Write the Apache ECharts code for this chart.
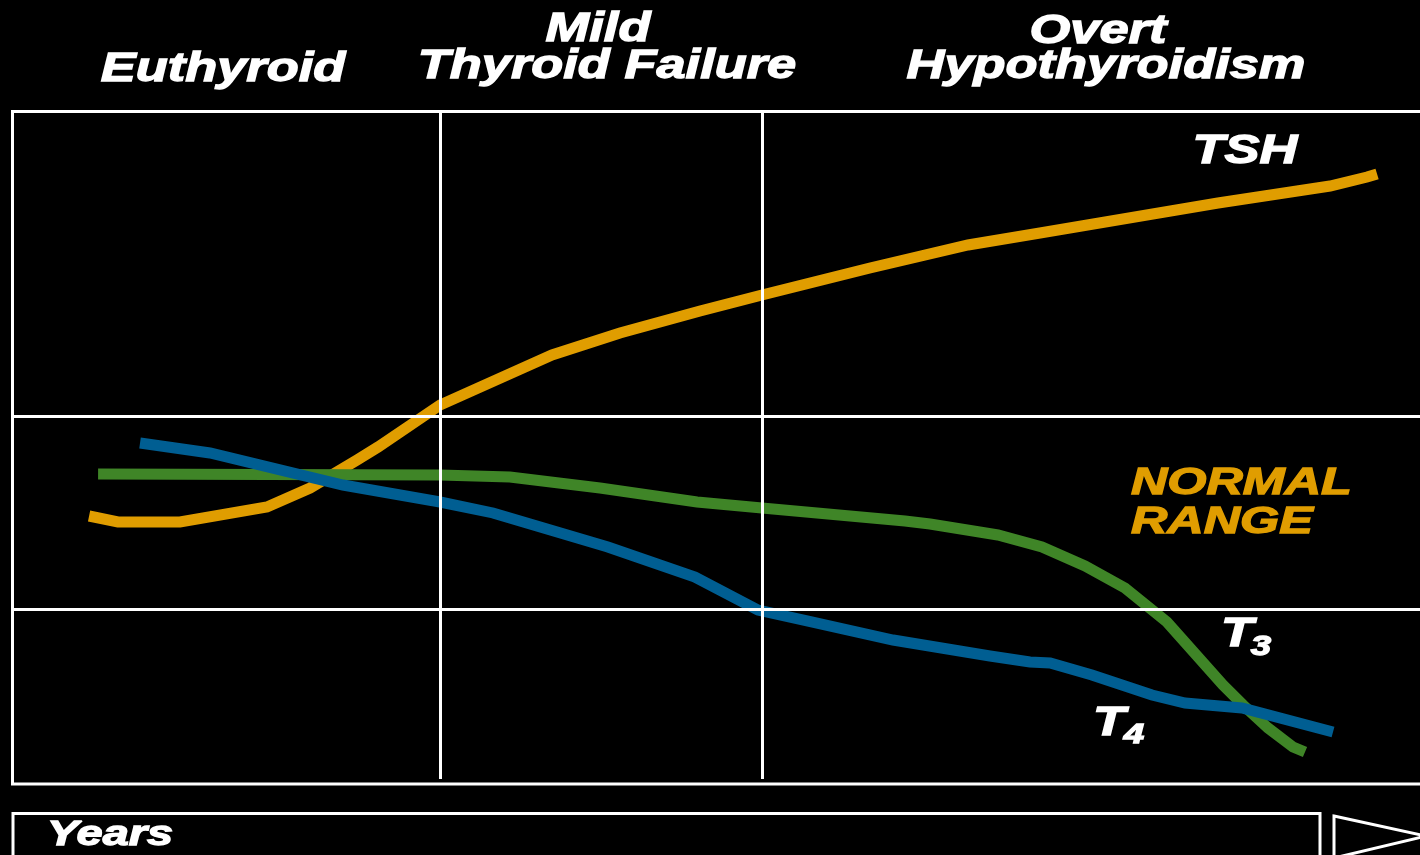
<!DOCTYPE html>
<html>
<head>
<meta charset="utf-8">
<title>Progression of hypothyroidism</title>
<script src="https://cdn.jsdelivr.net/npm/echarts@6/dist/echarts.min.js"></script>
<style>
  html, body { margin: 0; padding: 0; background: #000; }
  #chart { width: 1420px; height: 855px; }
</style>
</head>
<body>
<div id="chart"></div>
<script>
// Time runs 0..100 across the plot, levels run 0..100 bottom to top.
const phaseNames = ['Euthyroid', 'Mild\nThyroid Failure', 'Overt\nHypothyroidism'];
const phaseBounds = [30.41, 53.25];     // where one phase gives way to the next
const normalRange = [25.95, 54.65];     // lower and upper limit of normal
const dividerFloor = 0.75;              // phase dividers stop just short of the base line

const tshPoints = [
  [5.44, 39.85], [7.49, 38.96], [11.90, 38.96], [18.08, 41.19], [21.14, 44.01],
  [24.48, 48.18], [25.97, 50.11], [30.38, 56.36], [38.33, 63.79], [43.16, 67.06],
  [48.85, 70.33], [53.25, 72.71], [60.92, 76.73], [67.89, 80.15], [73.00, 81.93],
  [85.65, 86.39], [93.61, 88.92], [96.24, 90.26], [96.95, 90.71]
];
const t3Points = [
  [6.08, 46.10], [30.38, 45.95], [35.34, 45.65], [41.74, 44.01], [48.64, 41.93],
  [53.25, 41.04], [63.41, 39.11], [65.19, 38.66], [70.01, 37.03], [73.14, 35.24],
  [76.20, 32.42], [79.04, 29.14], [82.02, 24.09], [86.00, 14.72], [87.43, 11.75],
  [89.20, 8.33], [90.98, 5.50], [91.83, 4.76]
];
const t4Points = [
  [9.06, 50.71], [14.03, 49.22], [23.48, 44.46], [30.38, 41.93], [34.14, 40.30],
  [42.30, 35.24], [48.49, 30.78], [52.97, 25.87], [56.45, 24.24], [62.56, 21.41],
  [69.45, 19.03], [72.29, 18.14], [73.72, 17.99], [76.69, 16.21], [80.96, 13.23],
  [83.31, 12.04], [87.35, 11.30], [93.82, 7.73]
];

const COLORS = { tsh: '#E09D00', t3: '#3F8527', t4: '#005E92', frame: '#FFFFFF' };
const FONT = '"Liberation Sans", Arial, sans-serif';

// Heavy italic caption; a thin stroke in the fill colour thickens the strokes.
function label(text, x, y, size, color, align, scale) {
  const c = color || '#fff';
  return {
    type: 'text', x: x, y: y, scaleX: scale || 1.31, silent: true, z: 10,
    style: {
      text: text, fill: c, stroke: c, lineWidth: 1.3,
      fontFamily: FONT, fontSize: size, fontWeight: 'bold', fontStyle: 'italic',
      align: align || 'center', verticalAlign: 'middle'
    }
  };
}

const [euthyroid, mild, overt] = phaseNames.map(s => s.split('\n'));

const chart = echarts.init(document.getElementById('chart'), null, { renderer: 'canvas' });

const lineSeries = (name, data, color) => ({
  name: name, type: 'line', data: data, z: 3,
  symbol: 'none', showSymbol: false, smooth: false,
  lineStyle: { color: color, width: 11, cap: 'butt', join: 'miter', miterLimit: 4 },
  emphasis: { disabled: true }
});

const GRID = { left: 12.5, top: 111.5, bottom: 71, right: 0 };

chart.setOption({
  backgroundColor: '#000',
  animation: false,
  grid: Object.assign({ show: false }, GRID),
  xAxis: { type: 'value', min: 0, max: 100, show: false },
  yAxis: { type: 'value', min: 0, max: 100, show: false },
  series: [
    {
      name: 'grid', type: 'line', data: [], z: 1, silent: true,
      markLine: {
        silent: true, symbol: 'none', animation: false,
        label: { show: false },
        lineStyle: { color: COLORS.frame, width: 3, type: 'solid' },
        emphasis: { disabled: true },
        data: phaseBounds.map(v => [{ coord: [v, 100] }, { coord: [v, dividerFloor] }])
          .concat(normalRange.map(v => ({ yAxis: v })))
      }
    },
    lineSeries('TSH', tshPoints, COLORS.tsh),
    lineSeries('T3', t3Points, COLORS.t3),
    lineSeries('T4', t4Points, COLORS.t4)
  ],
  graphic: [
    // plot frame, open to the right where time runs on
    {
      type: 'polyline', silent: true, z: 2,
      shape: { points: [[1430, 111.5], [12.5, 111.5], [12.5, 784], [1430, 784]] },
      style: { fill: null, stroke: COLORS.frame, lineWidth: 3 }
    },
    // phase headings
    label(euthyroid[0], 223, 70, 40),
    label(mild[0], 598, 30, 40),
    label(mild[1], 607, 67, 40),
    label(overt[0], 1098, 31.5, 40),
    label(overt[1], 1106, 67, 40),
    // series names
    label('TSH', 1245, 151.5, 40),
    label('NORMAL', 1131, 483.5, 37, COLORS.tsh, 'left', 1.36),
    label('RANGE', 1131, 523, 37, COLORS.tsh, 'left', 1.36),
    label('T', 1237, 635, 40),
    label('3', 1261, 647, 28),
    label('T', 1109, 723.5, 40),
    label('4', 1134, 735, 28),
    // time axis bar
    {
      type: 'rect', silent: true,
      shape: { x: 13, y: 813.5, width: 1307, height: 43 },
      style: { fill: '#000', stroke: COLORS.frame, lineWidth: 3 }
    },
    label('Years', 47, 835, 35, '#fff', 'left', 1.34),
    {
      type: 'polygon', silent: true,
      shape: { points: [[1334, 816], [1426, 836], [1334, 858]] },
      style: { fill: '#000', stroke: COLORS.frame, lineWidth: 3 }
    }
  ]
});
</script>
</body>
</html>
